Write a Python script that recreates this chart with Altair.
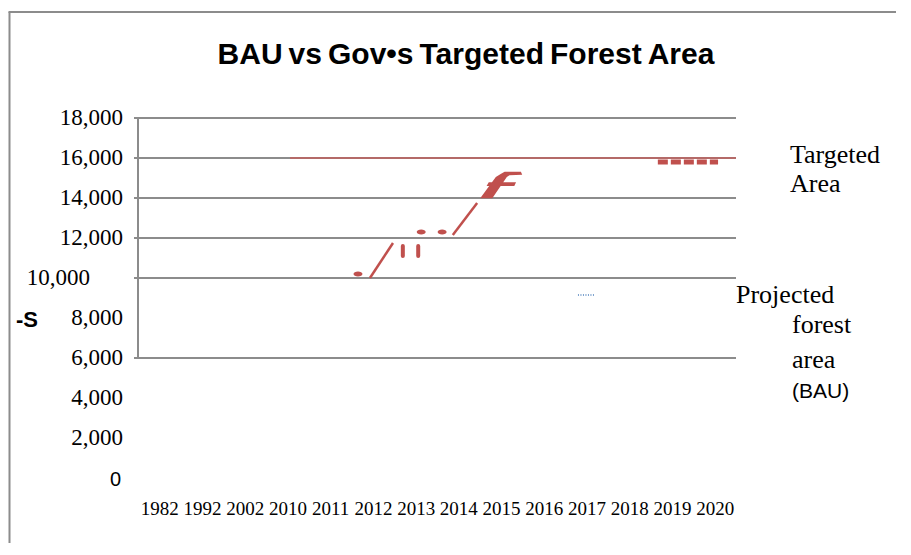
import json
import altair as alt
import pandas as pd

# ---------------- data ----------------
years = ["1982", "1992", "2002", "2010", "2011", "2012", "2013",
         "2014", "2015", "2016", "2017", "2018", "2019", "2020"]
x_index = list(range(len(years)))

y_tick_values = [18000, 16000, 14000, 12000, 10000, 8000, 6000, 4000, 2000, 0]
y_tick_labels = ["18,000", "16,000", "14,000", "12,000", "10,000", "8,000",
                 "6,000", "4,000", "2,000", "0"]
grid_values = [18000, 16000, 14000, 12000, 10000, 6000]

# Targeted Area (thin red line at 16,000)
target_x = [3.06, 13.5]
target_y = [16000, 16000]

# Red broken pieces (BAU / targeted path artefacts)
slash_id = ["a", "a", "b", "b"]
slash_x = [4.93, 5.47, 6.87, 7.44]
slash_y = [10000, 11750, 12150, 13750]

drop_id = ["c", "c", "d", "d"]
drop_x = [5.70, 5.70, 6.06, 6.06]
drop_y = [11600, 11100, 11600, 11100]

dot_x = [4.65, 6.13, 6.62]
dot_y = [10200, 12300, 12300]

f_x = [7.98]
f_y = [14650]

dash_x = [11.67, 13.08]
dash_y = [15800, 15800]

# Projected forest area (BAU) blue dotted fragment
proj_x = [9.80, 10.18]
proj_y = [9150, 9150]

# ---------------- tables ----------------
def seg(xs, ys, ids=None):
    d = {"x": xs, "y": ys}
    if ids is not None:
        d["id"] = ids
    return pd.DataFrame(d)

W, H = 598, 360
RED = "#c0504d"
GRID = "#8c8c8c"

label_expr = json.dumps(years) + "[datum.value]"
x_axis = alt.Axis(values=x_index, labelExpr=label_expr, domain=False, ticks=False,
                  grid=False, labelFont="Liberation Serif", labelFontSize=19,
                  labelColor="black", labelPadding=21, labelAngle=0, title=None)
x_scale = alt.Scale(domain=[-0.5, 13.5], nice=False, zero=False)
y_scale = alt.Scale(domain=[0, 18000], nice=False, zero=False)

def X(f="x:Q"):
    return alt.X(f, scale=x_scale, axis=x_axis)

def Y(f="y:Q"):
    return alt.Y(f, scale=y_scale, axis=None)

one = alt.Data(values=[{}])

grid = alt.Chart(pd.DataFrame({"y": grid_values})).mark_rule(
    color=GRID, strokeWidth=2).encode(y=Y(), x=alt.value(-4), x2=alt.value(W))

axis_line = alt.Chart(pd.DataFrame({"top": [grid_values[0]], "bottom": [grid_values[-1]]})).mark_rule(
    color=GRID, strokeWidth=2).encode(x=alt.value(0), y=Y("top:Q"), y2="bottom:Q")

xaxis_holder = alt.Chart(seg(x_index, [0] * len(x_index))).mark_point(opacity=0).encode(x=X(), y=Y())

target_line = alt.Chart(seg(target_x, target_y)).mark_line(
    color="#b46a68", strokeWidth=2).encode(x=X(), y=Y())

slashes = alt.Chart(seg(slash_x, slash_y, slash_id)).mark_line(
    color=RED, strokeWidth=2.5).encode(x=X(), y=Y(), detail="id:N")

drops = alt.Chart(seg(drop_x, drop_y, drop_id)).mark_line(
    color=RED, strokeWidth=4, strokeCap="round").encode(x=X(), y=Y(), detail="id:N")

dots = alt.Chart(seg(dot_x, dot_y)).mark_point(
    shape="M-1,0A1,0.55,0,1,0,1,0A1,0.55,0,1,0,-1,0Z", size=80, filled=True,
    color=RED, opacity=1).encode(x=X(), y=Y())

F_PATH = ("M-0.91,0.6L-0.36,0.6L0.3,-0.36L0.42,-0.44L1,-0.47L0.94,-0.6"
          "L0.2,-0.6L0.02,-0.5L-0.2,-0.36Z"
          "M-0.52,-0.13L-0.62,0.05L0.64,0.05L0.72,-0.13Z")
f_glyph = alt.Chart(seg(f_x, f_y)).mark_point(
    shape=F_PATH, size=1936, filled=True, color=RED, opacity=1,
    strokeWidth=0).encode(x=X(), y=Y())

dashes = alt.Chart(seg(dash_x, dash_y)).mark_line(
    color=RED, strokeWidth=5, strokeDash=[10, 3]).encode(x=X(), y=Y())

proj = alt.Chart(seg(proj_x, proj_y)).mark_line(
    color="#4f81bd", strokeWidth=1.5, strokeDash=[1, 1.5]).encode(x=X(), y=Y())

ylab_df = pd.DataFrame({"y": y_tick_values, "label": y_tick_labels})
ylabels = alt.Chart(ylab_df).transform_filter(
    "datum.y != 10000 && datum.y != 0").mark_text(
    font="Liberation Serif", fontSize=23, align="right", baseline="middle",
    color="black").encode(y=Y(), x=alt.value(-15), text="label:N")
ylabel_10k = alt.Chart(ylab_df).transform_filter("datum.y == 10000").mark_text(
    font="Liberation Serif", fontSize=23, align="right", baseline="middle",
    color="black").encode(y=Y(), x=alt.value(-48), text="label:N")
ylabel_0 = alt.Chart(ylab_df).transform_filter("datum.y == 0").mark_text(
    font="Liberation Sans", fontSize=20, align="right", baseline="middle",
    color="black", dy=2).encode(y=Y(), x=alt.value(-17), text="label:N")

def txt(s, x, y, font="Liberation Serif", size=26, weight="normal", align="left"):
    return alt.Chart(one).mark_text(
        font=font, fontSize=size, fontWeight=weight, align=align,
        baseline="alphabetic", color="black").encode(
        x=alt.value(x), y=alt.value(y), text=alt.value(s))

side_s = txt("-S", -122, 209, font="Liberation Sans Narrow, Liberation Sans", size=22, weight="bold")

title = txt("BAU\u2009vs\u2009Gov\u2022s\u2009Targeted\u2009Forest\u2009Area", 328, -54,
            font="Liberation Sans", size=30, weight="bold", align="center")

leg = [
    txt("Targeted", 652, 45),
    txt("Area", 652, 74),
    txt("Projected", 598, 185),
    txt("forest", 654, 215),
    txt("area", 654, 250),
    txt("(BAU)", 654, 280, font="Liberation Sans", size=21),
]

frame_left = alt.Chart(one).mark_rule(color=GRID, strokeWidth=2).encode(
    x=alt.value(-128.5), y=alt.value(-106), y2=alt.value(430))
frame_top = alt.Chart(one).mark_rule(color=GRID, strokeWidth=2).encode(
    x=alt.value(-129.5), x2=alt.value(760), y=alt.value(-106))

chart = alt.layer(
    xaxis_holder, grid, axis_line, target_line, slashes, drops, dots, f_glyph,
    dashes, proj, ylabels, ylabel_10k, ylabel_0, side_s, title, *leg,
    frame_left, frame_top,
).properties(
    width=W, height=H,
    padding={"left": 130, "top": 110, "right": 160, "bottom": 65},
    autosize=alt.AutoSizeParams(type="none"),
).configure_view(stroke=None)

chart.save("out.html", embed_options={"renderer": "svg", "actions": False})
